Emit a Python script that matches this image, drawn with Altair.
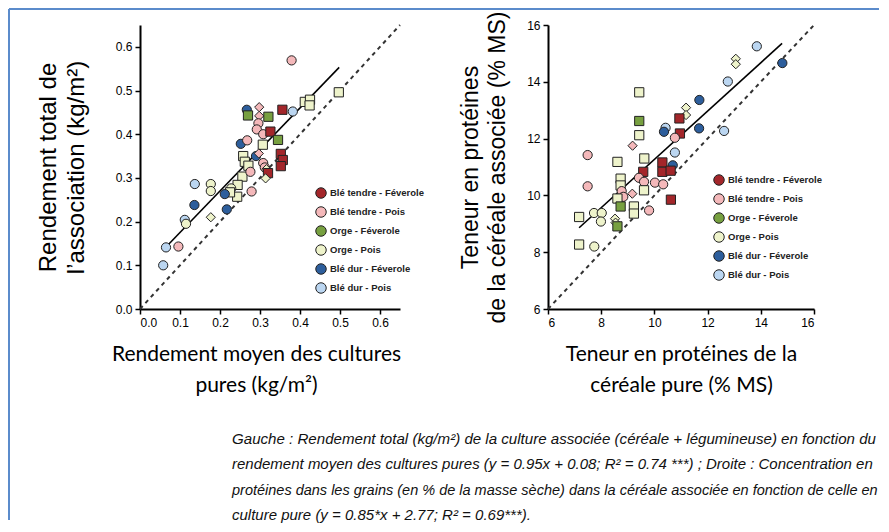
import altair as alt
import pandas as pd

# ---------------- categories / styles ----------------
GROUPS = ["Blé tendre - Féverole", "Blé tendre - Pois", "Orge - Féverole",
          "Orge - Pois", "Blé dur - Féverole", "Blé dur - Pois"]
GROUP_CODES = ["BTF", "BTP", "OF", "OP", "BDF", "BDP"]
GROUP_COLORS = ["#A3262A", "#F4B8BA", "#77A040", "#EEF3CB", "#2D5E9C", "#BBD6F1"]
SHAPE_CODES = ["o", "s", "d"]
SHAPE_MARKS = ["circle", "square", "diamond"]

# ---------------- left panel: yield ----------------
left_x = [0.379, 0.497, 0.412, 0.425, 0.424, 0.382, 0.356, 0.267, 0.270, 0.298,
          0.298, 0.296, 0.321, 0.292, 0.308, 0.326, 0.345, 0.252, 0.268, 0.307,
          0.352, 0.357, 0.352, 0.290, 0.258, 0.262, 0.297, 0.308, 0.312, 0.316,
          0.271, 0.256, 0.244, 0.243, 0.276, 0.320, 0.314, 0.279, 0.228, 0.225,
          0.212, 0.217, 0.177, 0.177, 0.137, 0.136, 0.177, 0.112, 0.115, 0.065,
          0.096, 0.058]
left_y = [0.569, 0.496, 0.474, 0.479, 0.466, 0.452, 0.456, 0.456, 0.443, 0.462,
          0.442, 0.425, 0.440, 0.411, 0.400, 0.406, 0.387, 0.378, 0.386, 0.376,
          0.355, 0.341, 0.327, 0.350, 0.350, 0.337, 0.356, 0.334, 0.324, 0.320,
          0.328, 0.303, 0.284, 0.257, 0.314, 0.311, 0.299, 0.269, 0.276, 0.267,
          0.263, 0.228, 0.286, 0.270, 0.286, 0.238, 0.210, 0.204, 0.195, 0.141,
          0.143, 0.100]
left_grp = ["BTP", "OP", "OP", "OP", "OP", "BDP", "BTF", "BDF", "OF", "BTP",
            "BTP", "BTP", "OF", "BTP", "BTP", "BTF", "OF", "BDF", "BTP", "OP",
            "BTF", "BTF", "BTF", "BDF", "OP", "OP", "BTP", "BTP", "BTP", "OP",
            "OP", "OP", "OP", "OP", "BTP", "BTF", "OP", "BTP", "OP", "OP",
            "BDF", "BDF", "OP", "OP", "BDP", "BDF", "OP", "BDP", "OP", "BDP",
            "BTP", "BDP"]
left_shp = ["o", "s", "s", "s", "s", "o", "s", "o", "s", "d",
            "d", "o", "s", "o", "o", "s", "s", "o", "o", "s",
            "s", "s", "s", "o", "s", "s", "d", "o", "o", "d",
            "s", "s", "s", "s", "o", "s", "d", "o", "o", "s",
            "o", "o", "o", "o", "o", "o", "d", "o", "o", "o",
            "o", "o"]
left_fit_x = [0.065, 0.498]
left_fit_y = [0.142, 0.553]
left_one_x = [0.0, 0.65]
left_ticks = [0.0, 0.1, 0.2, 0.3, 0.4, 0.5, 0.6]

# ---------------- right panel: protein ----------------
right_x = [13.85, 14.81, 13.06, 13.06, 12.76, 9.43, 11.69, 11.19, 11.19, 9.43,
           10.94, 10.96, 10.42, 10.36, 11.68, 12.62, 9.43, 10.77, 9.18, 7.49,
           10.77, 9.62, 8.61, 10.69, 10.30, 10.30, 10.61, 9.58, 8.73, 8.73,
           7.49, 9.42, 9.61, 10.02, 10.33, 8.77, 8.83, 9.17, 9.61, 10.62,
           8.61, 8.73, 9.23, 9.23, 9.80, 7.73, 8.02, 7.99, 7.17, 8.52,
           8.54, 8.61, 7.17, 7.74]
right_y = [15.25, 14.66, 14.81, 14.62, 14.01, 13.63, 13.36, 13.09, 12.83, 12.62,
           12.71, 12.18, 12.38, 12.24, 12.36, 12.27, 12.12, 12.03, 11.75, 11.42,
           11.51, 11.30, 11.18, 11.06, 11.16, 10.83, 10.87, 10.83, 10.59, 10.35,
           10.32, 10.62, 10.48, 10.45, 10.39, 10.15, 9.95, 10.06, 10.18, 9.85,
           9.89, 9.61, 9.61, 9.36, 9.47, 9.38, 9.38, 9.08, 9.24, 9.18,
           9.04, 8.91, 8.27, 8.20]
right_grp = ["BDP", "BDF", "OP", "OP", "BDP", "OP", "BDF", "OP", "OP", "OF",
             "BTF", "BTF", "BDP", "BDF", "BDF", "BDP", "OP", "BTP", "BTP", "BTP",
             "BDP", "OP", "OP", "BDF", "BTF", "BTF", "BTF", "BTF", "OP", "OP",
             "BTP", "BTP", "BTP", "BTP", "BTP", "BTP", "BTP", "BTP", "OP", "BTF",
             "OP", "OF", "OP", "OP", "BTP", "OP", "OP", "OP", "OP", "OP",
             "OP", "OF", "OP", "OP"]
right_shp = ["o", "o", "d", "d", "o", "s", "o", "d", "d", "s",
             "s", "s", "o", "o", "o", "o", "s", "o", "d", "o",
             "o", "s", "s", "o", "s", "s", "s", "s", "s", "s",
             "o", "o", "o", "o", "o", "o", "o", "d", "s", "s",
             "s", "s", "s", "s", "o", "o", "o", "o", "s", "d",
             "d", "s", "s", "o"]
right_fit_x = [7.17, 14.80]
right_fit_y = [8.86, 15.35]
right_one_x = [6.0, 16.0]
right_ticks = [6, 8, 10, 12, 14, 16]

# ---------------- texts ----------------
left_xtitle = ["Rendement moyen des cultures", "pures (kg/m²)"]
left_ytitle = ["Rendement total de", "l’association (kg/m²)"]
right_xtitle = ["Teneur en protéines de la", "céréale pure (% MS)"]
right_ytitle = ["Teneur en protéines", "de la céréale associée (% MS)"]
caption_lines = [
    "Gauche : Rendement total (kg/m²) de la culture associée (céréale + légumineuse) en fonction du",
    "rendement moyen des cultures pures (y = 0.95x + 0.08; R² = 0.74 ***) ; Droite : Concentration en",
    "protéines dans les grains (en % de la masse sèche) dans la céréale associée en fonction de celle en",
    "culture pure (y = 0.85*x + 2.77; R² = 0.69***).",
]
caption_sizes = [15.1, 15.0, 14.5, 15.0]   # per-line size to mimic the justified block

NAME = dict(zip(GROUP_CODES, GROUPS))
BORDER = "#5B8BCB"
SANS = "Liberation Sans"
W_L, W_R, H = 260, 266, 284


def panel(xs, ys, grps, shps, fit_x, fit_y, one_x, ticks, fmt, dom,
          xtitle, ytitle, legx, legy, xtitle_x, ypad, yfs):
    df = pd.DataFrame({"x": xs, "y": ys, "g": [NAME[c] for c in grps], "s": shps})
    sx = alt.Scale(domain=dom, nice=False, zero=False)
    sy = alt.Scale(domain=dom, nice=False, zero=False)
    axis_common = dict(
        values=ticks, format=fmt, grid=False,
        labelFont=SANS, labelFontSize=12, labelColor="black",
        labelPadding=3, tickColor="black", tickSize=5, tickWidth=1.5,
        domainColor="black", domainWidth=2, titleColor="black",
        titleFontWeight="normal",
    )
    xaxis = alt.Axis(title=xtitle, titleFont="Lato", titleFontSize=21,
                     titleLineHeight=31, titlePadding=15, titleX=xtitle_x,
                     titleAnchor="middle", **axis_common)
    yaxis = alt.Axis(title=ytitle, titleFont=SANS, titleFontSize=yfs,
                     titleLineHeight=27.5, titlePadding=ypad, **axis_common)

    one = alt.Chart(pd.DataFrame({"x": one_x, "y": one_x})).mark_line(
        color="#333", strokeWidth=2, strokeDash=[4, 4]).encode(
        x=alt.X("x:Q", scale=sx, axis=xaxis), y=alt.Y("y:Q", scale=sy, axis=yaxis))
    fit = alt.Chart(pd.DataFrame({"x": fit_x, "y": fit_y})).mark_line(
        color="black", strokeWidth=1.6).encode(
        x=alt.X("x:Q", scale=sx), y=alt.Y("y:Q", scale=sy))
    pts = alt.Chart(df).mark_point(filled=True, size=85, stroke="#222",
                                   strokeWidth=1, opacity=1).encode(
        x=alt.X("x:Q", scale=sx),
        y=alt.Y("y:Q", scale=sy),
        color=alt.Color("g:N", scale=alt.Scale(domain=GROUPS, range=GROUP_COLORS),
                        legend=alt.Legend(
                            title=None, orient="none", legendX=legx, legendY=legy,
                            symbolType="circle", symbolSize=110,
                            symbolStrokeColor="#222", symbolStrokeWidth=1,
                            labelFont=SANS, labelFontSize=9.5,
                            labelFontWeight="bold", labelColor="#222",
                            rowPadding=3, labelOffset=3, padding=0)),
        shape=alt.Shape("s:N", scale=alt.Scale(domain=SHAPE_CODES, range=SHAPE_MARKS),
                        legend=None),
    )
    return [one, fit, pts]


left_layers = panel(left_x, left_y, left_grp, left_shp, left_fit_x, left_fit_y,
                    left_one_x, left_ticks, ".1f", [0, 0.65],
                    left_xtitle, left_ytitle, 175, 162, 116, 27, 24)
right_layers = panel(right_x, right_y, right_grp, right_shp, right_fit_x, right_fit_y,
                     right_one_x, right_ticks, "d", [6, 16],
                     right_xtitle, right_ytitle, 165, 149, 133, 17, 23)

dummy = pd.DataFrame({"k": [0]})
caption_layers = [
    alt.Chart(dummy).mark_text(
        text=line, align="left", baseline="alphabetic", font=SANS,
        fontStyle="italic", fontSize=fs, color="#111").encode(
        x=alt.value(92), y=alt.value(419 + 25.3 * i))
    for i, (line, fs) in enumerate(zip(caption_lines, caption_sizes))
]
border_v = alt.Chart(dummy).mark_rule(color=BORDER, strokeWidth=2).encode(
    x=alt.value(-131), y=alt.value(-16), y2=alt.value(495))
border_h = alt.Chart(dummy).mark_rule(color=BORDER, strokeWidth=2).encode(
    x=alt.value(-131), x2=alt.value(739), y=alt.value(-16))

left = alt.layer(*left_layers, *caption_layers, border_v, border_h).properties(
    width=W_L, height=H)
right = alt.layer(*right_layers).properties(width=W_R, height=H)

chart = alt.hconcat(left, right, spacing=148, bounds="flush").resolve_legend(
    color="independent").resolve_scale(color="shared").properties(
    padding=0, background="white").configure_view(stroke=None)

chart.save("out.html", embed_options={"renderer": "svg", "actions": False})
